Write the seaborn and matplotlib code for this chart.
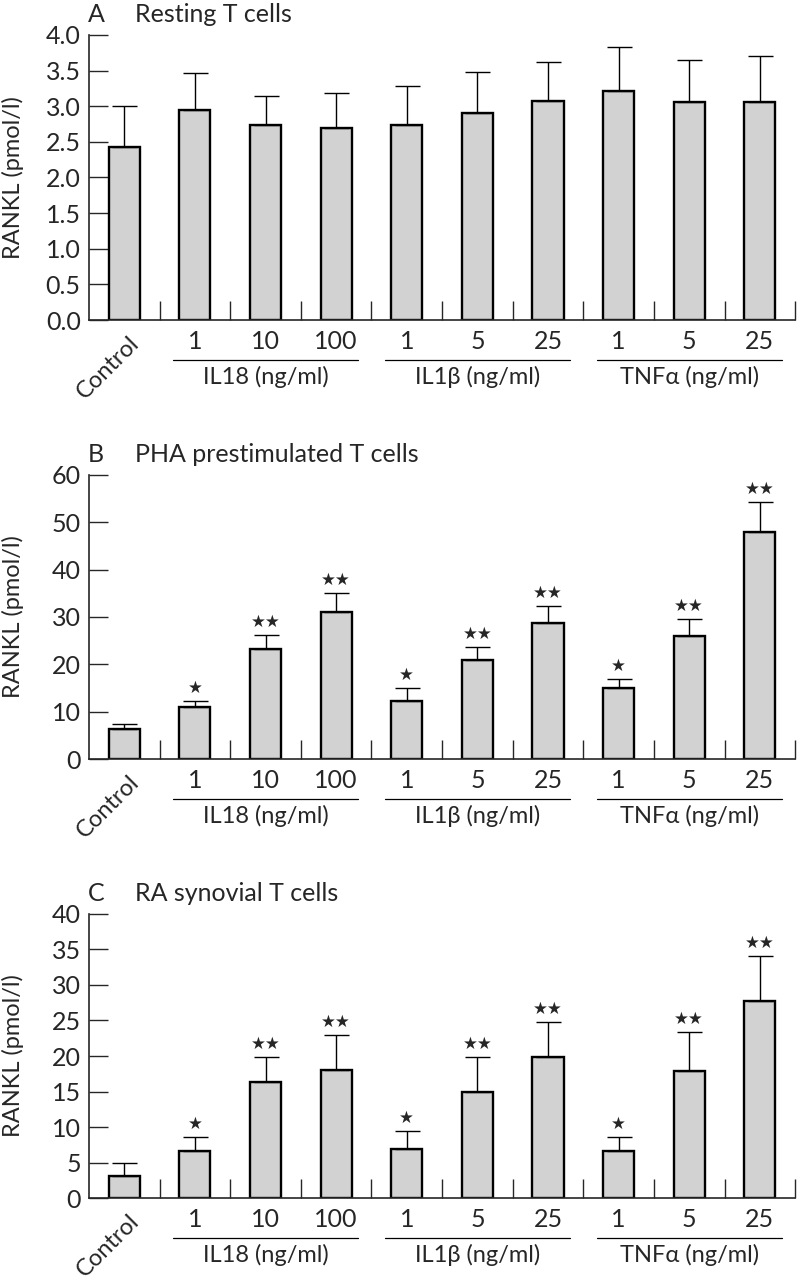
import numpy as np
import pandas as pd
import seaborn as sns
import matplotlib.pyplot as plt
from matplotlib.transforms import blended_transform_factory

conditions = ["Control", "IL18 1", "IL18 10", "IL18 100", "IL1β 1", "IL1β 5",
              "IL1β 25", "TNFα 1", "TNFα 5", "TNFα 25"]
dose_labels = ["1", "10", "100", "1", "5", "25", "1", "5", "25"]
group_names = ["IL18 (ng/ml)", "IL1β (ng/ml)", "TNFα (ng/ml)"]
group_spans = [(1, 3), (4, 6), (7, 9)]

panel_letters = ["A", "B", "C"]
panel_titles = ["Resting T cells", "PHA prestimulated T cells", "RA synovial T cells"]

means_a = [2.43, 2.94, 2.73, 2.70, 2.73, 2.91, 3.07, 3.21, 3.06, 3.06]
sem_a = [0.57, 0.52, 0.41, 0.48, 0.55, 0.57, 0.55, 0.62, 0.59, 0.64]
means_b = [6.3, 11.0, 23.3, 31.1, 12.25, 21.0, 28.7, 15.1, 25.9, 47.9]
sem_b = [1.2, 1.3, 2.9, 3.9, 2.65, 2.7, 3.6, 1.8, 3.7, 6.3]
means_c = [3.1, 6.65, 16.3, 18.05, 6.9, 15.0, 19.9, 6.65, 17.95, 27.7]
sem_c = [1.9, 1.95, 3.6, 4.85, 2.5, 4.9, 4.9, 1.95, 5.45, 6.4]

stars_a = [""] * 10
stars_b = ["", "★", "★★", "★★", "★", "★★", "★★", "★", "★★", "★★"]
stars_c = ["", "★", "★★", "★★", "★", "★★", "★★", "★", "★★", "★★"]

yticks_a = [0.0, 0.5, 1.0, 1.5, 2.0, 2.5, 3.0, 3.5, 4.0]
yticks_b = [0, 10, 20, 30, 40, 50, 60]
yticks_c = [0, 5, 10, 15, 20, 25, 30, 35, 40]

sns.set_style("ticks")
plt.rcParams["font.family"] = ["Lato", "DejaVu Sans"]

fig = plt.figure(figsize=(7.97, 12.8), dpi=100)
rects = [[0.1117, 0.750, 0.886, 0.2227],
         [0.1117, 0.407, 0.886, 0.2220],
         [0.1117, 0.064, 0.886, 0.2220]]

panels = [(means_a, sem_a, stars_a, yticks_a, "{:.1f}"),
          (means_b, sem_b, stars_b, yticks_b, "{:.0f}"),
          (means_c, sem_c, stars_c, yticks_c, "{:.0f}")]

for i, (means, sems, stars, yticks, fmt) in enumerate(panels):
    ax = fig.add_axes(rects[i])
    df = pd.DataFrame({"condition": conditions, "value": means})
    sns.barplot(data=df, x="condition", y="value", order=conditions,
                color="#d2d2d2", saturation=1, edgecolor="black",
                linewidth=1.7, width=0.44, ax=ax)
    xpos = np.arange(len(conditions))
    ax.errorbar(xpos, means, yerr=[np.zeros(len(means)), sems], fmt="none",
                ecolor="black", elinewidth=1, capsize=9, capthick=1, zorder=1)
    for x, m, s, st in zip(xpos, means, sems, stars):
        if st:
            ax.annotate(st, (x, m + s), xytext=(0, 3), textcoords="offset points",
                        ha="center", va="bottom", fontsize=12,
                        family=["DejaVu Sans"])

    ax.set_xlim(-0.5, 9.5)
    ax.set_ylim(yticks[0], yticks[-1])
    ax.set_yticks(yticks)
    ax.set_yticklabels([fmt.format(t) for t in yticks])
    ax.set_xticks(np.arange(0.5, 10, 1))
    ax.set_xticklabels([])
    ax.set_xticks(np.arange(1, 10), minor=True)
    ax.set_xticklabels(dose_labels, minor=True)
    ax.tick_params(axis="x", which="major", direction="in", length=14, width=1)
    ax.tick_params(axis="x", which="minor", length=0, pad=7, labelsize=18)
    ax.tick_params(axis="y", direction="in", length=14, width=1, pad=6, labelsize=18)
    for sp in ["top", "right"]:
        ax.spines[sp].set_visible(False)
    for sp in ["left", "bottom"]:
        ax.spines[sp].set_linewidth(1.2)

    ax.set_xlabel("")
    ax.set_ylabel("RANKL (pmol/l)", fontsize=17)
    ax.yaxis.set_label_coords(-0.092, 0.5)

    ax.annotate("Control", (0.06, 0), xycoords=("data", "axes fraction"),
                xytext=(0, -9), textcoords="offset points", rotation=45,
                rotation_mode="anchor", ha="right", va="top", fontsize=17)

    trans = blended_transform_factory(ax.transData, ax.transAxes)
    for name, (g0, g1) in zip(group_names, group_spans):
        ax.plot([g0 - 0.31, g1 + 0.31], [-0.14, -0.14], transform=trans,
                color="black", lw=0.9, clip_on=False)
        ax.annotate(name, ((g0 + g1) / 2, 0), xycoords=("data", "axes fraction"),
                    xytext=(0, -41), textcoords="offset points",
                    ha="center", va="center", fontsize=17)

    ax.annotate(panel_letters[i], (0, 1), xycoords="axes fraction",
                xytext=(-1, 15), textcoords="offset points",
                ha="left", va="center", fontsize=18)
    ax.annotate(panel_titles[i], (0, 1), xycoords="axes fraction",
                xytext=(33, 15), textcoords="offset points",
                ha="left", va="center", fontsize=18)

fig.savefig("out.png", dpi=100)
